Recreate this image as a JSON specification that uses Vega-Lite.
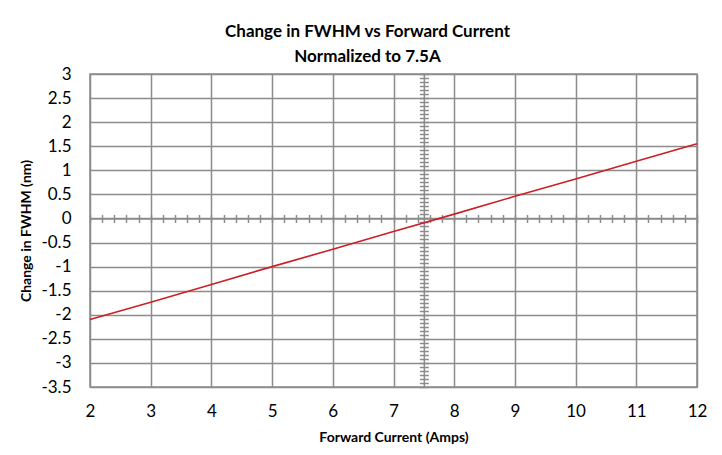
{
  "$schema": "https://vega.github.io/schema/vega-lite/v6.json",
  "width": 607,
  "height": 313,
  "autosize": "none",
  "padding": {"left": 90, "top": 74, "right": 25, "bottom": 68},
  "background": "white",
  "config": {
    "font": "Lato",
    "view": {"stroke": "#8c8c8c", "strokeWidth": 1.5}
  },
  "title": {
    "text": ["Change in FWHM vs Forward Current", "Normalized to 7.5A"],
    "font": "Lato",
    "fontSize": 17,
    "fontWeight": "bold",
    "color": "#000000",
    "anchor": "middle",
    "frame": "group",
    "dx": -26,
    "lineHeight": 25,
    "offset": -1
  },
  "data": {
    "values": [
      {"current": 2, "change": -2.1},
      {"current": 3, "change": -1.74},
      {"current": 4, "change": -1.37},
      {"current": 5, "change": -1.0},
      {"current": 6, "change": -0.64},
      {"current": 7, "change": -0.27},
      {"current": 8, "change": 0.09},
      {"current": 9, "change": 0.46},
      {"current": 10, "change": 0.82},
      {"current": 11, "change": 1.19},
      {"current": 12, "change": 1.55}
    ]
  },
  "resolve": {"axis": {"x": "independent", "y": "independent"}},
  "layer": [
    {
      "mark": {"type": "point", "opacity": 0},
      "encoding": {
        "x": {"field": "current", "type": "quantitative", "scale": {"domain": [2, 12], "nice": false, "zero": false},
          "axis": {"orient": "bottom", "offset": -168.54, "grid": false, "labels": false, "title": null,
            "domain": true, "domainColor": "#8c8c8c", "domainWidth": 1.5,
            "ticks": true, "tickSize": 4, "tickColor": "#8c8c8c", "tickWidth": 1.5,
            "values": [2,2.2,2.4,2.6,2.8,3,3.2,3.4,3.6,3.8,4,4.2,4.4,4.6,4.8,5,5.2,5.4,5.6,5.8,6,6.2,6.4,6.6,6.8,7,7.2,7.4,7.6,7.8,8,8.2,8.4,8.6,8.8,9,9.2,9.4,9.6,9.8,10,10.2,10.4,10.6,10.8,11,11.2,11.4,11.6,11.8,12]}},
        "y": {"field": "change", "type": "quantitative", "axis": null}
      }
    },
    {
      "mark": {"type": "point", "opacity": 0},
      "encoding": {
        "x": {"field": "current", "type": "quantitative",
          "axis": {"orient": "top", "offset": -144.46, "grid": false, "labels": false, "title": null,
            "domain": false,
            "ticks": true, "tickSize": 4, "tickColor": "#8c8c8c", "tickWidth": 1.5,
            "values": [2,2.2,2.4,2.6,2.8,3,3.2,3.4,3.6,3.8,4,4.2,4.4,4.6,4.8,5,5.2,5.4,5.6,5.8,6,6.2,6.4,6.6,6.8,7,7.2,7.4,7.6,7.8,8,8.2,8.4,8.6,8.8,9,9.2,9.4,9.6,9.8,10,10.2,10.4,10.6,10.8,11,11.2,11.4,11.6,11.8,12]}},
        "y": {"field": "change", "type": "quantitative", "axis": null}
      }
    },
    {
      "mark": {"type": "point", "opacity": 0},
      "encoding": {
        "x": {"field": "current", "type": "quantitative", "axis": null},
        "y": {"field": "change", "type": "quantitative", "scale": {"domain": [-3.5, 3], "nice": false, "zero": false},
          "axis": {"orient": "left", "offset": -333.85, "grid": false, "labels": false, "title": null,
            "domain": true, "domainColor": "#8c8c8c", "domainWidth": 1.5,
            "ticks": true, "tickSize": 4.5, "tickColor": "#8c8c8c", "tickWidth": 1.5,
            "values": [-3.5,-3.4167,-3.3333,-3.25,-3.1667,-3.0833,-3,-2.9167,-2.8333,-2.75,-2.6667,-2.5833,-2.5,-2.4167,-2.3333,-2.25,-2.1667,-2.0833,-2,-1.9167,-1.8333,-1.75,-1.6667,-1.5833,-1.5,-1.4167,-1.3333,-1.25,-1.1667,-1.0833,-1,-0.9167,-0.8333,-0.75,-0.6667,-0.5833,-0.5,-0.4167,-0.3333,-0.25,-0.1667,-0.0833,0,0.0833,0.1667,0.25,0.3333,0.4167,0.5,0.5833,0.6667,0.75,0.8333,0.9167,1,1.0833,1.1667,1.25,1.3333,1.4167,1.5,1.5833,1.6667,1.75,1.8333,1.9167,2,2.0833,2.1667,2.25,2.3333,2.4167,2.5,2.5833,2.6667,2.75,2.8333,2.9167,3]}}
      }
    },
    {
      "mark": {"type": "point", "opacity": 0},
      "encoding": {
        "x": {"field": "current", "type": "quantitative", "axis": null},
        "y": {"field": "change", "type": "quantitative",
          "axis": {"orient": "right", "offset": -273.15, "grid": false, "labels": false, "title": null,
            "domain": false,
            "ticks": true, "tickSize": 4.5, "tickColor": "#8c8c8c", "tickWidth": 1.5,
            "values": [-3.5,-3.4167,-3.3333,-3.25,-3.1667,-3.0833,-3,-2.9167,-2.8333,-2.75,-2.6667,-2.5833,-2.5,-2.4167,-2.3333,-2.25,-2.1667,-2.0833,-2,-1.9167,-1.8333,-1.75,-1.6667,-1.5833,-1.5,-1.4167,-1.3333,-1.25,-1.1667,-1.0833,-1,-0.9167,-0.8333,-0.75,-0.6667,-0.5833,-0.5,-0.4167,-0.3333,-0.25,-0.1667,-0.0833,0,0.0833,0.1667,0.25,0.3333,0.4167,0.5,0.5833,0.6667,0.75,0.8333,0.9167,1,1.0833,1.1667,1.25,1.3333,1.4167,1.5,1.5833,1.6667,1.75,1.8333,1.9167,2,2.0833,2.1667,2.25,2.3333,2.4167,2.5,2.5833,2.6667,2.75,2.8333,2.9167,3]}}
      }
    },
    {
      "mark": {"type": "line", "color": "#cc1f26", "strokeWidth": 1.6},
      "encoding": {
        "x": {"field": "current", "type": "quantitative",
          "axis": {"orient": "bottom", "grid": true, "gridColor": "#8c8c8c", "gridWidth": 1.5,
            "domain": false, "ticks": false, "tickSize": 0,
            "values": [2,3,4,5,6,7,8,9,10,11,12],
            "labelExpr": "'' + datum.value", "labelFlush": false, "labelOverlap": false,
            "labelFont": "Lato", "labelFontSize": 17, "labelColor": "#000000", "labelPadding": 16,
            "title": "Forward Current (Amps)", "titleFont": "Lato", "titleFontSize": 14, "titleFontWeight": "bold",
            "titleColor": "#000000", "titlePadding": 11}},
        "y": {"field": "change", "type": "quantitative",
          "axis": {"orient": "left", "grid": true, "gridColor": "#8c8c8c", "gridWidth": 1.5,
            "domain": false, "ticks": false, "tickSize": 0,
            "values": [-3.5,-3,-2.5,-2,-1.5,-1,-0.5,0,0.5,1,1.5,2,2.5,3],
            "labelExpr": "'' + datum.value", "labelFlush": false, "labelOverlap": false,
            "labelFont": "Lato", "labelFontSize": 17, "labelColor": "#000000", "labelPadding": 19,
            "title": "Change in FWHM (nm)", "titleFont": "Lato", "titleFontSize": 14, "titleFontWeight": "bold",
            "titleColor": "#000000", "titlePadding": 7}}
      }
    }
  ]
}
